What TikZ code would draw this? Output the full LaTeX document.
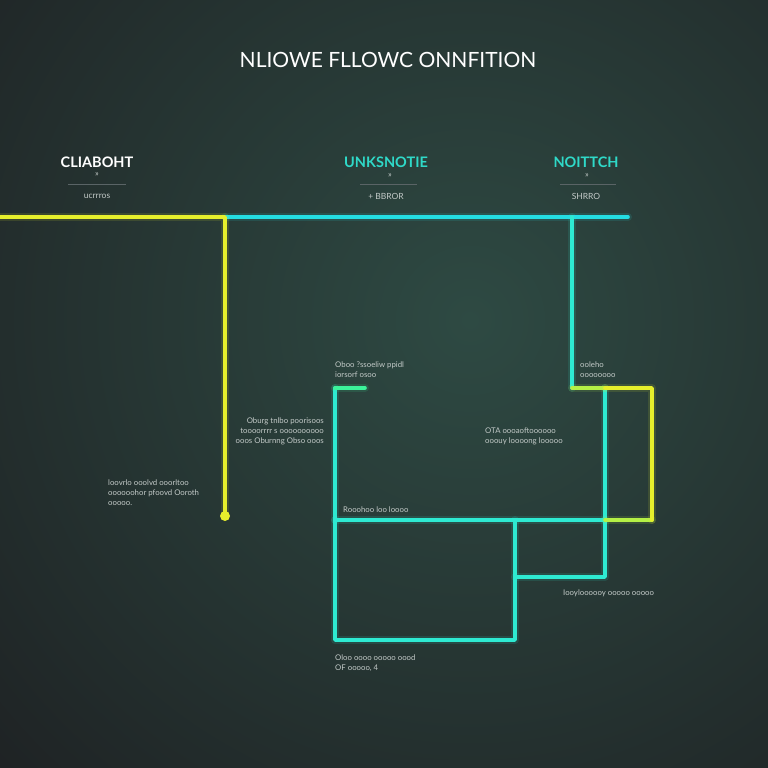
\documentclass[tikz,border=0pt]{standalone}
\usepackage{fontspec}
\setmainfont{Lato}
\begin{document}
\begin{tikzpicture}[x=1pt,y=-1pt,
  neon/.style={line width=3.6pt, line cap=round, line join=round, draw=#1,
    preaction={draw=#1, line width=8pt, draw opacity=0.12, line cap=round, line join=round}},
  lbl/.style={text=labelgray, font=\fontsize{7.8}{9.8}\selectfont, inner sep=0pt},
  head/.style={font=\bfseries\fontsize{14.5}{16}\selectfont, inner sep=0pt},
  sub/.style={text=labelgray, font=\fontsize{8.5}{9}\selectfont, inner sep=0pt},
  rule/.style={draw=rulegray, line width=0.8pt}]
\definecolor{bgdark}{HTML}{1E2123}
\definecolor{bgmid}{HTML}{2E4A43}
\definecolor{labelgray}{HTML}{C3CAC8}
\definecolor{rulegray}{HTML}{5A6466}
\definecolor{neonY}{HTML}{E6EF2C}
\definecolor{neonC}{HTML}{24DDE2}
\definecolor{neonT}{HTML}{2EEAD2}
\definecolor{neonG}{HTML}{3CF29A}
\definecolor{neonYG}{HTML}{B4F046}
\definecolor{headC}{HTML}{2FD9C8}
\useasboundingbox (0,0) rectangle (768,768);
\begin{scope}
  \clip (0,0) rectangle (768,768);
  \fill[bgdark] (0,0) rectangle (768,768);
  \shade[inner color=bgmid, outer color=bgdark] (470,320) circle (680);
\end{scope}

% title
\node[text=white, font=\fontsize{21}{24}\selectfont] (title) at (388,60) {NLIOWE FLLOWC ONNFITION};

% column headers
\node[head, text=white] (h1) at (97,162) {CLIABOHT};
\node[sub] (h1a) at (97,175) {»};
\coordinate (r1a) at (68,184); \coordinate (r1b) at (126,184);
\draw[rule] (r1a) -- (r1b);
\node[sub] (h1b) at (97,196) {ucrrros};

\node[head, text=headC] (h2) at (386,162) {UNKSNOTIE};
\node[sub] (h2a) at (390,176) {»};
\coordinate (r2a) at (360,184); \coordinate (r2b) at (417,184);
\draw[rule] (r2a) -- (r2b);
\node[sub] (h2b) at (386,196) {+ BBROR};

\node[head, text=headC] (h3) at (586,162) {NOITTCH};
\node[sub] (h3a) at (587,176) {»};
\coordinate (r3a) at (560,184); \coordinate (r3b) at (616,184);
\draw[rule] (r3a) -- (r3b);
\node[sub] (h3b) at (586,196) {SHRRO};

% coordinates
\coordinate (yL) at (0,217);
\coordinate (J1) at (225,217);
\coordinate (dotY) at (225,516);
\coordinate (cR) at (628,217);
\coordinate (J2) at (572,217);
\coordinate (K) at (572,388);
\coordinate (V1) at (605,388);
\coordinate (Ky) at (652,388);
\coordinate (Ky2) at (652,520);
\coordinate (S1) at (365,388);
\coordinate (S2) at (335,388);
\coordinate (H1) at (335,520);
\coordinate (B1) at (335,640);
\coordinate (B2) at (515,640);
\coordinate (B3) at (515,520);
\coordinate (M) at (515,577);
\coordinate (V2) at (605,577);
\coordinate (V3) at (605,520);

% lines
\draw[neon=neonC] (J1) -- (cR);
\draw[neon=neonY] (yL) -- (J1) -- (dotY);
\fill[neonY] (dotY) circle (5);
\draw[neon=neonT] (J2) -- (K);
\draw[neon=neonT] (H1) -- (B1) -- (B2) -- (B3);
\draw[neon=neonT] (M) -- (V2) -- (V1);
\draw[neon=neonT] (H1) -- (V3);
\draw[neon=neonT] (S2) -- (H1);
\draw[neon=neonG] (S1) -- (S2);
\draw[neon=neonYG] (V3) -- (Ky2);
\draw[neon=neonYG] (K) -- (V1);
\draw[neon=neonY] (V1) -- (Ky) -- (Ky2);

% labels
\node[lbl, align=left, anchor=north west] (t1) at (335,362) {Oboo ?ssoeliw ppidl\\iorsorf osoo};
\node[lbl, align=right, anchor=north east] (t2) at (324,418) {Oburg tnlbo poorisoos\\toooorrrr s oooooooooo\\ooos Oburnng Obso ooos};
\node[lbl, align=left, anchor=north west] (t3) at (108,480) {loovrlo ooolvd ooorltoo\\oooooohor pfoovd Ooroth\\ooooo.};
\node[lbl, align=left, anchor=north west] (t4) at (580,362) {ooleho\\oooooooo};
\node[lbl, align=left, anchor=north west] (t5) at (485,428) {OTA oooaoftoooooo\\ooouy loooong looooo};
\node[lbl, anchor=west] (t6) at (343,510) {Rooohoo loo loooo};
\node[lbl, anchor=west] (t7) at (563,593) {Iooyloooooy ooooo ooooo};
\node[lbl, align=left, anchor=north west] (t8) at (335,655) {Oloo oooo ooooo oood\\OF ooooo, 4};
\end{tikzpicture}
\end{document}
